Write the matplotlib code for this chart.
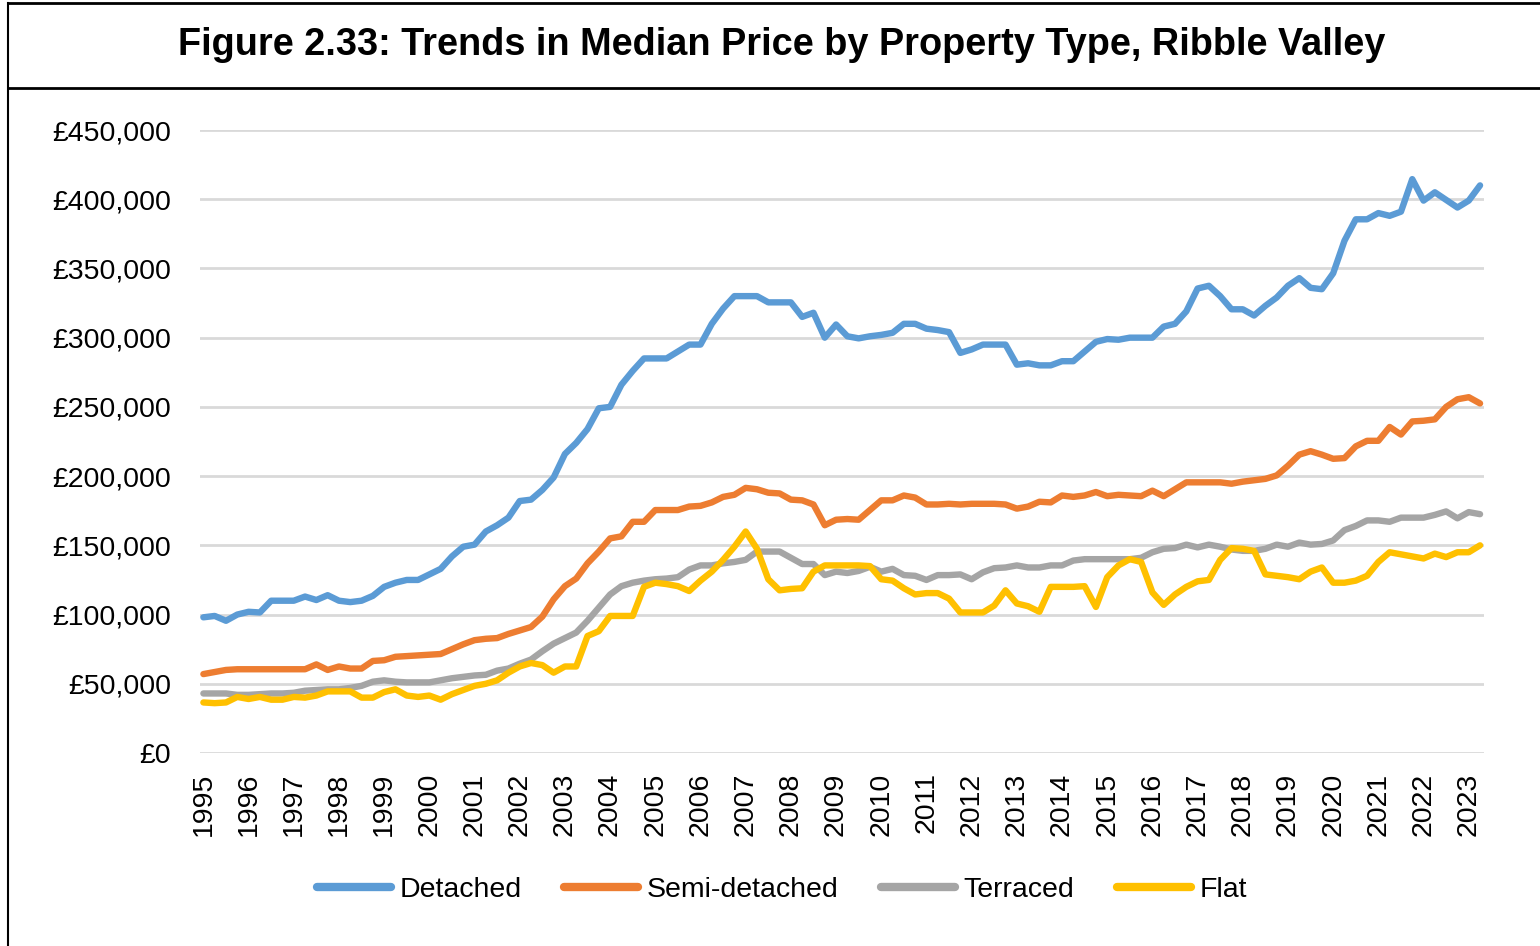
import matplotlib
matplotlib.use("Agg")
import matplotlib.pyplot as plt
from matplotlib.ticker import FuncFormatter, FixedLocator
from matplotlib.lines import Line2D

plt.rcParams['font.family'] = ['Liberation Sans', 'DejaVu Sans']

title = "Figure 2.33: Trends in Median Price by Property Type, Ribble Valley"
series_names = ["Detached", "Semi-detached", "Terraced", "Flat"]
colors = ["#5B9BD5", "#ED7D31", "#A5A5A5", "#FFC000"]
years = list(range(1995, 2024))

# Quarterly medians, 1995 Q1 .. 2023 Q2 (in £)
detached = [98000, 99000, 95500, 100000, 102000, 101500, 110000, 110000, 110000, 113000,
            110500, 114000, 110000, 109000, 110000, 113500, 120000, 123000, 125000, 125000,
            129000, 133000, 142000, 149000, 150500, 160000, 164500, 170000, 182000, 183000,
            190000, 199000, 216000, 224000, 234000, 249000, 250000, 266000, 276000, 285000,
            285000, 285000, 290000, 295000, 295000, 310000, 321000, 330000, 330000, 330000,
            325500, 325500, 325500, 315000, 318000, 300000, 309500, 301000, 299500, 301000,
            302000, 303500, 310000, 310000, 306500, 305500, 304000, 289000, 291500, 295000,
            295000, 295000, 280500, 281500, 280000, 280000, 283000, 283000, 290000, 297000,
            299000, 298500, 300000, 300000, 300000, 308000, 310000, 319000, 335500, 337500,
            330000, 320500, 320500, 316000, 323000, 329000, 337500, 343000, 336000, 335000,
            346500, 370000, 385500, 385500, 390000, 388000, 391000, 414500, 399000, 405000,
            399500, 394000, 399000, 410000]
semi = [57000, 58500, 60000, 60500, 60500, 60500, 60500, 60500, 60500, 60500,
        64000, 60000, 62500, 61000, 61000, 66500, 67000, 69500, 70000, 70500,
        71000, 71500, 75000, 78500, 81500, 82500, 83000, 86000, 88500, 91000,
        98500, 111000, 120500, 126000, 137000, 145500, 155000, 156500, 167000, 167000,
        175500, 175500, 175500, 178000, 178500, 181000, 185000, 186500, 191500, 190500,
        188000, 187500, 183000, 182500, 179500, 164500, 168500, 169000, 168500, 175500,
        182500, 182500, 186000, 184500, 179500, 179500, 180000, 179500, 180000, 180000,
        180000, 179500, 176500, 178000, 181500, 181000, 186000, 185000, 186000, 188500,
        185500, 186500, 186000, 185500, 189500, 185500, 190500, 195500, 195500, 195500,
        195500, 194500, 196000, 197000, 198000, 200500, 207500, 215500, 218000, 215500,
        212500, 213000, 221500, 225500, 225500, 235500, 230000, 239500, 240000, 241000,
        250000, 255500, 257000, 252500]
terraced = [43000, 43000, 43000, 42000, 42000, 42500, 43000, 43000, 43500, 45000,
            45500, 46000, 46000, 47000, 48500, 51500, 52500, 51500, 51000, 51000,
            51000, 52500, 54000, 55000, 56000, 56500, 59500, 61000, 64500, 67500,
            73500, 79000, 83000, 87000, 95500, 105000, 114500, 120500, 123000, 124500,
            125500, 126000, 127000, 132500, 135500, 135500, 137000, 138000, 139500, 145500,
            145500, 145500, 141000, 136500, 136500, 128500, 131000, 130000, 131500, 134500,
            131000, 133000, 128500, 128000, 125000, 128500, 128500, 129000, 125500, 130500,
            133500, 134000, 135500, 134000, 134000, 135500, 135500, 139000, 140000, 140000,
            140000, 140000, 140000, 141000, 145000, 147500, 148000, 150500, 148500, 150500,
            149000, 147000, 146000, 146000, 147500, 150500, 149000, 152000, 150500, 151000,
            153500, 161000, 164000, 168000, 168000, 167000, 170000, 170000, 170000, 172000,
            174500, 169500, 174000, 172500]
flat = [36500, 36000, 36500, 40500, 39000, 40500, 38500, 38500, 40500, 40000,
        41500, 44500, 44500, 44500, 40000, 40000, 44000, 46000, 41500, 40500,
        41500, 38500, 42500, 45500, 48500, 50000, 52500, 58000, 62500, 65000,
        63500, 58000, 62500, 62500, 84500, 88000, 99000, 99000, 99000, 120000,
        123000, 122000, 120500, 117000, 124500, 131000, 139500, 149000, 160000, 147500,
        125500, 117500, 118500, 119000, 131000, 135500, 135500, 135500, 135500, 135000,
        125500, 124500, 119000, 114500, 115500, 115500, 111500, 101500, 101500, 101500,
        106500, 117500, 108000, 106000, 102000, 120000, 120000, 120000, 120500, 105500,
        127000, 135500, 140000, 138000, 116000, 107000, 114500, 120000, 124000, 125000,
        139500, 148000, 147500, 146000, 129000, 128000, 127000, 125500, 131000, 134000,
        123000, 123000, 124500, 128000, 138000, 145000, 143500, 142000, 140500, 144000,
        141500, 145000, 145000, 150000]

W, H = 1540, 946
fig = plt.figure(figsize=(W / 100, H / 100), dpi=100)

# axes placement in pixels
L, R, T, B = 200, 1484, 130, 753
ax = fig.add_axes([L / W, 1 - B / H, (R - L) / W, (B - T) / H])

x = list(range(len(detached)))
for name, vals, c in zip(series_names, [detached, semi, terraced, flat], colors):
    ax.plot(x, vals, color=c, lw=4.6, solid_capstyle='round', solid_joinstyle='round',
            label=name, zorder=3)

ax.set_ylim(0, 450000)
ax.set_xlim(-0.3, len(detached) - 1 + 0.35)
ax.yaxis.set_major_locator(FixedLocator(range(0, 450001, 50000)))
ax.yaxis.set_major_formatter(FuncFormatter(lambda v, p: "£{:,.0f}".format(v)))
ax.grid(axis='y', color='#D9D9D9', lw=2)
ax.set_axisbelow(True)
for s in ax.spines.values():
    s.set_visible(False)

tick_pos = [4 * i for i in range(len(years))]
ax.set_xticks(tick_pos)
ax.set_xticklabels([str(y) for y in years], rotation=90, fontsize=20.5)
ax.tick_params(axis='x', length=0, pad=14)
ax.tick_params(axis='y', length=0, pad=21, labelsize=20.5)

# legend
handles = [Line2D([0], [0], color=c, lw=6, solid_capstyle='round') for c in colors]
fig.legend(handles, series_names, loc='center', bbox_to_anchor=(782 / W, 1 - 890 / H),
           ncol=4, frameon=False, fontsize=20.5, handlelength=2.6, handletextpad=0.3,
           columnspacing=1.5)

# title box and frame
fig.text(782 / W, 1 - 45 / H, title, ha='center', va='center', fontsize=27.3,
         fontweight='bold')
fig.add_artist(Line2D([8 / W, 1], [1 - 3 / H, 1 - 3 / H], color='black', lw=2))
fig.add_artist(Line2D([8 / W, 1], [1 - 88 / H, 1 - 88 / H], color='black', lw=2))
fig.add_artist(Line2D([8 / W, 8 / W], [0, 1 - 3 / H], color='black', lw=1.5))

fig.savefig("out.png", dpi=100)
